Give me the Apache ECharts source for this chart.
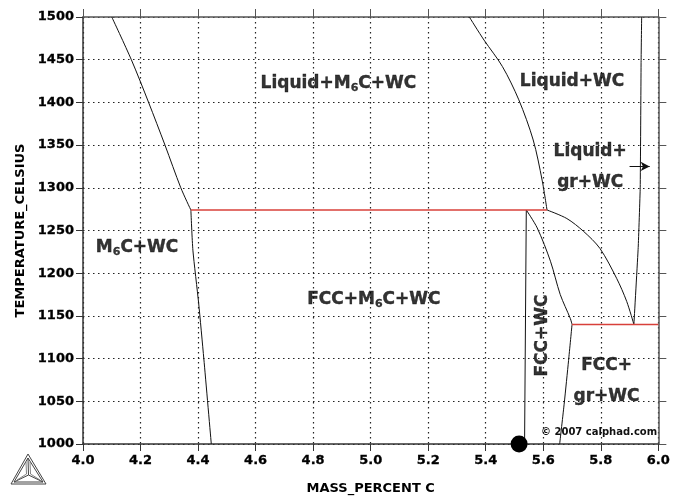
<!DOCTYPE html>
<html><head><meta charset="utf-8">
<script src="https://cdn.jsdelivr.net/npm/echarts@6/dist/echarts.min.js"></script>
<style>html,body{margin:0;padding:0;background:#fff}#c{width:673px;height:502px}</style>
</head><body><div id="c"></div>
<script>
// ---- Data (mass percent C, temperature °C) ----
const m6cWcUpper = [[4.10,1500],[4.168,1450],[4.228,1400],[4.285,1350],[4.34,1300],[4.375,1274]];
const m6cWcLower = [[4.375,1274],[4.382,1227],[4.402,1165],[4.42,1100],[4.446,1000]];
const liquidusWC = [[5.343,1500],[5.394,1473],[5.458,1442],[5.515,1403],[5.565,1356],[5.596,1309],[5.613,1274]];
const fccWcLeft = [[5.541,1274],[5.535,1000]];
const fccWcRightUpper = [[5.541,1274],[5.579,1253],[5.625,1214],[5.659,1175],[5.694,1147],[5.70,1140]];
const fccWcRightLower = [[5.70,1140],[5.688,1098],[5.673,1048],[5.657,1000]];
const liqGrBoundary = [[5.613,1274],[5.682,1264],[5.74,1249],[5.797,1229],[5.855,1194],[5.89,1167],[5.915,1140]];
const graphiteLiquidus = [[5.915,1140],[5.93,1230],[5.937,1300],[5.94,1445],[5.942,1500]];
const eutectic1274 = [[4.375,1274],[5.613,1274]];
const eutectic1140 = [[5.70,1140],[6.0,1140]];
const arrowLine = [[5.90,1325],[5.97,1325]];
const alloyPoint = [[5.516,1000]];
const labelTexts = ['Liquid+M{s|6}C+WC','Liquid+WC','Liquid+\ngr+WC','M{s|6}C+WC','FCC+M{s|6}C+WC','FCC+WC','FCC+\ngr+WC'];
const labelPositions = [[4.888,1422],[5.70,1424],[5.763,1324],[4.188,1230],[5.011,1169],[5.598,1127],[5.82,1074]];
const labelRotations = [0,0,0,0,0,90,0];
const xRange = [4.0, 6.0];
const yRange = [1000, 1500];
const xStep = 0.2, yStep = 50;

const FONT = 'DejaVu Sans';
const chart = echarts.init(document.getElementById('c'), null, {renderer:'canvas'});

function boundary(data, smooth) {
  return {type:'line', data, showSymbol:false, symbol:'none', smooth: smooth || false,
    lineStyle:{color:'#111', width:1}, silent:true, animation:false, z:3};
}
function redLine(data) {
  return {type:'line', data, showSymbol:false, symbol:'none',
    lineStyle:{color:'#d8403a', width:1.5}, silent:true, animation:false, z:4};
}

const labelData = labelTexts.map((t,i)=>({
  value: labelPositions[i],
  label:{show:true, formatter:t, rotate:labelRotations[i], position:'inside',
    color:'#000', textBorderColor:'#000', textBorderWidth:0.4, fontSize:17, fontWeight:'bold', fontFamily:FONT, lineHeight:31, align:'center', verticalAlign:'middle',
    rich:{s:{fontSize:11, fontWeight:'bold', fontFamily:FONT, color:'#000', textBorderColor:'#000', textBorderWidth:0.3, padding:[9,0,0,0]}}}
}));

const gridLineStyle = {type:[1.5, 3.5], dashOffset:0, color:'#222', width:1.2};
const tickText = {color:'#000', textBorderColor:'#000', textBorderWidth:0.3, fontWeight:'bold', fontSize:13, fontFamily:FONT};

chart.setOption({
  animation:false,
  backgroundColor:'#fff',
  grid:{left:83, right:11, top:17, bottom:58, containLabel:false},
  xAxis:[
    {type:'value', min:xRange[0], max:xRange[1], interval:xStep, position:'bottom',
      axisLine:{onZero:false, lineStyle:{color:'#333', width:1.5}},
      axisTick:{inside:false, length:7, lineStyle:{color:'#333', width:1}},
      axisLabel:Object.assign({formatter:v=>v.toFixed(1), margin:10}, tickText),
      splitLine:{show:true, lineStyle:gridLineStyle},
      name:'MASS_PERCENT C', nameLocation:'middle', nameGap:38,
      nameTextStyle:{color:'#000', fontWeight:'bold', fontSize:13, fontFamily:FONT}},
    {type:'value', min:xRange[0], max:xRange[1], interval:xStep, position:'top',
      axisLine:{onZero:false, lineStyle:{color:'#555', width:1.5}},
      axisTick:{inside:false, length:8, lineStyle:{color:'#555', width:1}},
      axisLabel:{show:false}, splitLine:{show:false}}
  ],
  yAxis:[
    {type:'value', min:yRange[0], max:yRange[1], interval:yStep, position:'left',
      axisLine:{show:true, onZero:false, lineStyle:{color:'#333', width:1.5}},
      axisTick:{show:true, inside:false, length:7, lineStyle:{color:'#333', width:1}},
      axisLabel:Object.assign({formatter:v=>String(v), margin:9}, tickText),
      splitLine:{show:true, lineStyle:gridLineStyle},
      name:'TEMPERATURE_CELSIUS', nameLocation:'middle', nameGap:47, nameRotate:90,
      nameTextStyle:{color:'#000', fontWeight:'bold', fontSize:13, fontFamily:FONT}},
    {type:'value', min:yRange[0], max:yRange[1], interval:yStep, position:'right',
      axisLine:{show:true, onZero:false, lineStyle:{color:'#555', width:1.5}},
      axisTick:{show:true, inside:false, length:8, lineStyle:{color:'#555', width:1}},
      axisLabel:{show:false}, splitLine:{show:false}}
  ],
  series:[
    boundary(m6cWcUpper, 0.3),
    boundary(m6cWcLower, 0.2),
    boundary(liquidusWC, 0.3),
    boundary(fccWcLeft),
    boundary(fccWcRightUpper, 0.3),
    boundary(fccWcRightLower, 0.2),
    boundary(liqGrBoundary, 0.3),
    boundary(graphiteLiquidus, 0.1),
    redLine(eutectic1274),
    redLine(eutectic1140),
    {type:'line', data:[], silent:true, animation:false,
      markLine:{silent:true, symbol:['none','arrow'], symbolSize:[7,9], label:{show:false},
        lineStyle:{color:'#111', width:1, type:'solid'},
        data:[[{coord:arrowLine[0]},{coord:arrowLine[1]}]]}},
    {type:'scatter', data:alloyPoint, symbol:'circle', symbolSize:17, itemStyle:{color:'#000', opacity:1}, silent:true, z:6, clip:false},
    {type:'scatter', data:labelData, symbolSize:0, silent:true, z:5}
  ],
  graphic:[
    {type:'text', left:541, top:427, style:{text:'© 2007 calphad.com', fill:'#111', font:'bold 10px "DejaVu Sans"'}, z:10},
    {type:'polygon', shape:{points:[[28,454],[11,484],[46,484]]}, style:{fill:'none', stroke:'#444', lineWidth:1}},
    {type:'polygon', shape:{points:[[28,458],[14,482],[43,482]]}, style:{fill:'none', stroke:'#444', lineWidth:1}},
    {type:'polyline', shape:{points:[[28,458],[28.5,475],[14,482]]}, style:{fill:'none', stroke:'#444', lineWidth:1}},
    {type:'polyline', shape:{points:[[28.5,475],[43,482]]}, style:{fill:'none', stroke:'#444', lineWidth:1}},
    {type:'polyline', shape:{points:[[26,462],[26.5,474],[17,480]]}, style:{fill:'none', stroke:'#666', lineWidth:0.8}},
    {type:'polyline', shape:{points:[[30,462],[30.5,474],[40,480]]}, style:{fill:'none', stroke:'#666', lineWidth:0.8}}
  ]
});
</script>
</body></html>
